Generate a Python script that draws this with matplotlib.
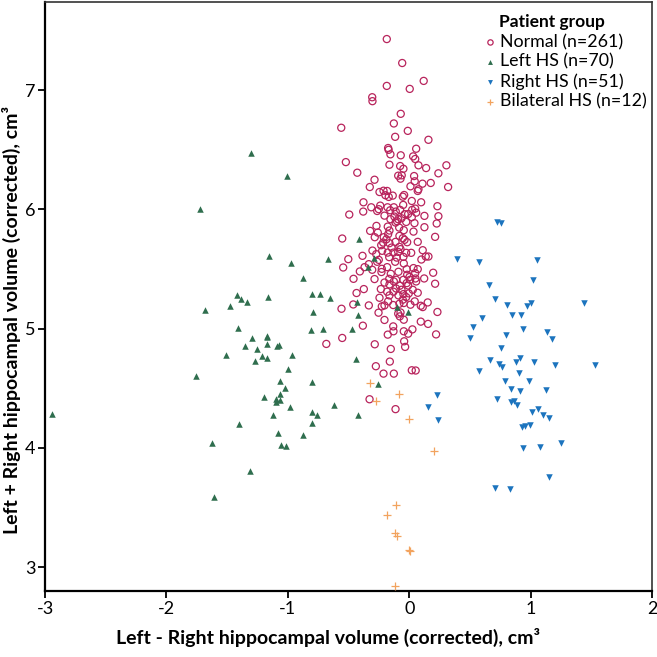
import matplotlib
matplotlib.use("Agg")
import matplotlib.pyplot as plt
import numpy as np

plt.rcParams['font.family'] = ['Lato', 'DejaVu Sans']
plt.rcParams['axes.unicode_minus'] = False

# Normal (n=261)
normal_x = [-0.185, -0.058, 0.119, -0.185, 0.004, -0.305, -0.303, -0.070, -0.127, -0.560,
            -0.012, -0.116, 0.158, -0.174, -0.170, 0.057, -0.155, -0.070, 0.032, 0.049,
            -0.522, -0.163, -0.075, 0.076, 0.306, -0.048, 0.139, -0.428, 0.240, -0.091,
            -0.062, -0.072, 0.040, -0.286, 0.045, 0.177, 0.109, -0.325, 0.010, 0.320,
            0.076, 0.070, -0.245, -0.212, -0.182, -0.196, -0.136, -0.042, -0.053, -0.169,
            -0.377, 0.021, 0.098, -0.050, -0.239, -0.313, -0.179, -0.127, 0.232, -0.379,
            -0.251, -0.264, 0.049, -0.157, -0.111, -0.075, 0.024, 0.057, -0.494, -0.204,
            -0.122, -0.037, -0.009, -0.064, -0.155, -0.091, 0.021, 0.125, 0.240, -0.113,
            -0.100, -0.025, 0.043, 0.226, -0.270, -0.177, -0.083, 0.125, -0.322, -0.259,
            -0.163, -0.045, 0.035, -0.174, -0.081, -0.284, -0.552, -0.210, -0.188, -0.053,
            -0.039, 0.213, 0.070, -0.215, -0.163, -0.113, -0.017, -0.231, -0.081, -0.072,
            -0.146, -0.303, -0.223, -0.177, -0.130, -0.091, -0.025, 0.016, 0.111, -0.272,
            -0.385, 0.136, 0.158, -0.251, -0.165, -0.103, -0.048, 0.100, -0.502, -0.264,
            -0.333, -0.116, -0.045, -0.544, -0.368, -0.226, -0.182, 0.035, 0.070, -0.021,
            -0.305, 0.197, -0.407, -0.229, -0.152, -0.089, -0.017, 0.049, 0.002, -0.459,
            -0.286, -0.165, -0.108, -0.048, 0.007, 0.051, 0.123, -0.204, -0.127, -0.021,
            0.057, 0.213, -0.163, -0.078, -0.009, -0.234, -0.374, -0.108, -0.064, 0.029,
            -0.182, -0.130, -0.048, -0.004, -0.434, -0.163, -0.089, 0.070, -0.025, -0.245,
            -0.053, 0.045, -0.174, 0.152, -0.461, -0.333, -0.204, -0.132, -0.081, -0.045,
            -0.226, 0.010, 0.095, 0.111, -0.558, -0.253, -0.091, -0.072, 0.232, -0.078,
            -0.204, -0.045, 0.095, 0.155, -0.382, -0.132, 0.026, -0.130, -0.045, -0.009,
            -0.177, 0.221, -0.552, -0.042, -0.683, -0.284, -0.034, -0.152, -0.160, -0.275,
            0.021, 0.053, -0.212, -0.127, -0.327, -0.113]
normal_y = [7.429, 7.228, 7.078, 7.036, 7.011, 6.941, 6.908, 6.802, 6.721, 6.685,
            6.659, 6.609, 6.584, 6.515, 6.500, 6.509, 6.462, 6.454, 6.445, 6.423,
            6.397, 6.375, 6.364, 6.370, 6.370, 6.341, 6.347, 6.308, 6.303, 6.283,
            6.286, 6.258, 6.280, 6.249, 6.236, 6.222, 6.216, 6.188, 6.194, 6.188,
            6.169, 6.155, 6.146, 6.157, 6.155, 6.119, 6.116, 6.121, 6.107, 6.105,
            6.060, 6.071, 6.060, 6.038, 6.032, 6.018, 6.018, 6.018, 6.027, 5.982,
            6.002, 5.987, 6.007, 5.993, 5.982, 5.996, 5.996, 5.973, 5.957, 5.948,
            5.940, 5.960, 5.962, 5.926, 5.918, 5.918, 5.935, 5.946, 5.943, 5.890,
            5.901, 5.895, 5.885, 5.882, 5.862, 5.856, 5.848, 5.851, 5.820, 5.806,
            5.823, 5.826, 5.814, 5.792, 5.778, 5.767, 5.756, 5.767, 5.750, 5.759,
            5.745, 5.770, 5.728, 5.722, 5.717, 5.728, 5.725, 5.700, 5.686, 5.667,
            5.680, 5.655, 5.653, 5.638, 5.638, 5.644, 5.636, 5.636, 5.658, 5.625,
            5.611, 5.605, 5.605, 5.577, 5.600, 5.596, 5.602, 5.580, 5.583, 5.561,
            5.541, 5.561, 5.547, 5.513, 5.516, 5.502, 5.516, 5.508, 5.499, 5.499,
            5.494, 5.469, 5.480, 5.475, 5.460, 5.477, 5.452, 5.466, 5.433, 5.418,
            5.416, 5.418, 5.410, 5.410, 5.410, 5.421, 5.421, 5.387, 5.396, 5.382,
            5.396, 5.377, 5.371, 5.360, 5.362, 5.332, 5.332, 5.337, 5.326, 5.326,
            5.310, 5.310, 5.290, 5.296, 5.299, 5.279, 5.279, 5.301, 5.265, 5.259,
            5.243, 5.229, 5.229, 5.220, 5.203, 5.195, 5.195, 5.198, 5.209, 5.215,
            5.187, 5.201, 5.192, 5.181, 5.167, 5.134, 5.126, 5.136, 5.140, 5.103,
            5.073, 5.075, 5.059, 5.040, 5.025, 5.019, 4.994, 4.978, 4.978, 4.958,
            4.950, 4.952, 4.922, 4.894, 4.872, 4.869, 4.847, 4.830, 4.724, 4.685,
            4.651, 4.649, 4.623, 4.623, 4.408, 4.325]

# Left HS (n=70)
left_x = [-1.303, -1.007, -1.723, -1.158, -0.971, -1.415, -1.386, -1.336, -1.479, -1.682,
          -1.164, -0.412, -0.667, -0.292, -0.336, -0.873, -0.802, -0.733, -0.654, -0.432,
          -0.790, -0.418, -0.103, -0.007, -0.470, -0.807, -0.711, -0.437, -0.802, -0.256,
          -0.621, -0.804, -0.761, -0.420, -0.804, -0.876, -1.407, -1.295, -1.172, -1.172,
          -1.353, -1.251, -1.172, -1.086, -1.076, -1.509, -1.213, -1.169, -1.271, -0.963,
          -0.999, -1.758, -1.062, -1.024, -1.062, -1.199, -1.095, -1.100, -1.067, -0.985,
          -1.123, -1.399, -1.084, -1.624, -1.053, -1.018, -1.308, -1.608, -2.940]
left_y = [6.470, 6.278, 6.002, 5.608, 5.550, 5.279, 5.249, 5.220, 5.187, 5.157,
          5.265, 5.753, 5.588, 5.592, 5.513, 5.421, 5.293, 5.293, 5.259, 5.226,
          5.140, 5.111, 5.178, 5.136, 4.997, 4.986, 4.994, 4.743, 4.554, 4.534,
          4.358, 4.297, 4.274, 4.278, 4.205, 4.110, 5.006, 4.922, 4.941, 4.929,
          4.855, 4.827, 4.875, 4.855, 4.864, 4.777, 4.772, 4.757, 4.726, 4.782,
          4.663, 4.607, 4.559, 4.506, 4.448, 4.423, 4.406, 4.387, 4.400, 4.345,
          4.274, 4.199, 4.124, 4.044, 4.027, 4.019, 3.806, 3.586, 4.286]

# Right HS (n=51)
right_x = [0.725, 0.758, 0.396, 0.577, 1.054, 1.021, 0.660, 0.706, 0.805, 0.972,
           1.002, 1.443, 0.846, 0.917, 0.600, 0.528, 0.933, 1.134, 0.503, 0.794,
           1.175, 0.752, 0.665, 0.736, 0.761, 0.876, 0.914, 1.030, 1.197, 1.529,
           0.577, 0.900, 0.791, 0.983, 0.835, 0.914, 1.128, 0.232, 0.720, 0.152,
           0.238, 0.838, 0.865, 0.887, 1.007, 1.062, 1.101, 1.153, 0.925, 0.953,
           0.994, 1.246, 0.933, 1.079, 1.155, 0.709, 0.826]
right_y = [5.898, 5.890, 5.586, 5.561, 5.580, 5.408, 5.368, 5.249, 5.199, 5.187,
           5.215, 5.215, 5.115, 5.117, 5.090, 5.011, 4.998, 4.970, 4.925, 4.944,
           4.916, 4.835, 4.741, 4.702, 4.680, 4.722, 4.752, 4.722, 4.693, 4.693,
           4.643, 4.626, 4.563, 4.563, 4.498, 4.473, 4.487, 4.442, 4.410, 4.347,
           4.230, 4.383, 4.395, 4.362, 4.297, 4.328, 4.274, 4.247, 4.172, 4.183,
           4.188, 4.044, 4.002, 4.007, 3.753, 3.665, 3.653]

# Bilateral HS (n=12)
bilat_x = [-0.325, -0.083, -0.275, 0.002, 0.205, -0.111, -0.185, -0.119, -0.097, 0.002,
           0.006, -0.119]
bilat_y = [4.548, 4.453, 4.392, 4.241, 3.971, 3.521, 3.433, 3.287, 3.265, 3.145,
           3.138, 2.844]

c_normal = '#B8245C'
c_left = '#2F6E4E'
c_right = '#1C74BE'
c_bilat = '#F2A35E'

fig = plt.figure(figsize=(6.57, 6.57), dpi=100)
ax = fig.add_axes([0.0685, 0.1005, 0.924, 0.8965])

ax.scatter(normal_x, normal_y, s=26, facecolors='none', edgecolors=c_normal,
           linewidths=0.9, marker='o', label='Normal (n=261)', zorder=3)
ax.scatter(left_x, left_y, s=22, color=c_left, marker='^', linewidths=0,
           label='Left HS (n=70)', zorder=3)
ax.scatter(right_x, right_y, s=22, color=c_right, marker='v', linewidths=0,
           label='Right HS (n=51)', zorder=3)
ax.scatter(bilat_x, bilat_y, s=30, color=c_bilat, marker='+', linewidths=0.9,
           label='Bilateral HS (n=12)', zorder=3)

ax.set_xlim(-3, 2)
ax.set_ylim(2.8, 7.74)
ax.set_xticks([-3, -2, -1, 0, 1, 2])
ax.set_yticks([3, 4, 5, 6, 7])
ax.tick_params(direction='out', length=5, width=1.3, labelsize=13, pad=2)
for side in ['left', 'bottom']:
    ax.spines[side].set_linewidth(1.6)
for side in ['top', 'right']:
    ax.spines[side].set_linewidth(1.2)
    ax.spines[side].set_color('#333333')

ax.set_xlabel('Left - Right hippocampal volume (corrected), cm³', fontsize=14,
              fontweight='bold')
ax.set_ylabel('Left + Right hippocampal volume (corrected), cm³', fontsize=14,
              fontweight='bold')
ax.xaxis.set_label_coords(0.466, -0.062)
ax.yaxis.set_label_coords(-0.04, 0.46)

# legend: title drawn separately so it can sit indented like the original
fig.text(499 / 657, 1 - 22 / 657, 'Patient group', fontsize=12.5, fontweight='bold',
         ha='left', va='center')
leg = ax.legend(loc='upper right', bbox_to_anchor=(647 / 657, 1 - 34 / 657),
                bbox_transform=fig.transFigure, frameon=False, fontsize=12.8,
                handletextpad=0.25, handlelength=0.6, labelspacing=0.2,
                markerscale=0.75, borderaxespad=0, borderpad=0)

fig.savefig('out.png', dpi=100)
